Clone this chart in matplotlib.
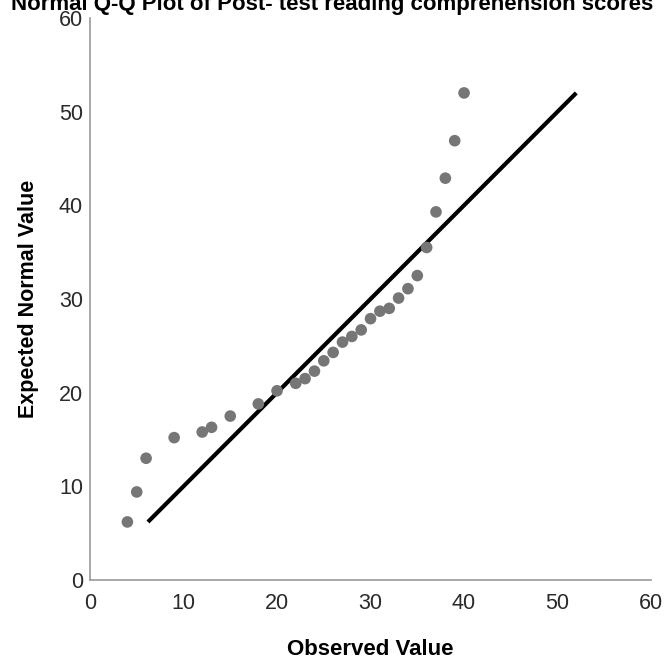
import matplotlib as mpl
mpl.use('Agg')
import matplotlib.pyplot as plt
import numpy as np

# observed scores and expected normal values
observed = [4, 5, 6, 9, 12, 13, 15, 18, 20, 22, 23, 24, 25, 26, 27, 28, 29,
            30, 31, 32, 33, 34, 35, 36, 37, 38, 39, 40]
expected = [6.2, 9.4, 13.0, 15.2, 15.8, 16.3, 17.5, 18.8, 20.2, 21.0, 21.5,
            22.3, 23.4, 24.3, 25.4, 26.0, 26.7, 27.9, 28.7, 29.0, 30.1, 31.1,
            32.5, 35.5, 39.3, 42.9, 46.9, 52.0]
ticks = [0, 10, 20, 30, 40, 50, 60]

plt.rcParams['font.family'] = ['Liberation Sans', 'DejaVu Sans']

fig = plt.figure(figsize=(6.68, 6.64), dpi=100)
ax = fig.add_axes([0.1347, 0.1265, 0.84, 0.8464])

# reference line y = x over the range of expected values
lo, hi = min(expected), max(expected)
ax.plot([lo, hi], [lo, hi], color='black', lw=3, solid_capstyle='butt', zorder=2)
ax.scatter(observed, expected, s=70, color='#767676', edgecolors='none', zorder=3)

ax.set_xlim(0, 60)
ax.set_ylim(0, 60)
ax.set_xticks(ticks)
ax.set_yticks(ticks)
ax.tick_params(length=0, labelsize=15.5, colors='#2a2a2a')
ax.tick_params(axis='x', pad=9)
ax.tick_params(axis='y', pad=5)
for side in ['top', 'right']:
    ax.spines[side].set_visible(False)
for side in ['left', 'bottom']:
    ax.spines[side].set_color('#9a9a9a')
    ax.spines[side].set_linewidth(1.2)

ax.set_xlabel('Observed Value', fontsize=16, fontweight='bold', labelpad=18)
ax.set_ylabel('Expected Normal Value', fontsize=15.5, fontweight='bold', labelpad=14)
fig.text(0.497, 0.985, 'Normal Q-Q Plot of Post- test reading comprehension scores',
         ha='center', va='baseline', fontsize=16, fontweight='bold')

fig.savefig('out.png', dpi=100)
